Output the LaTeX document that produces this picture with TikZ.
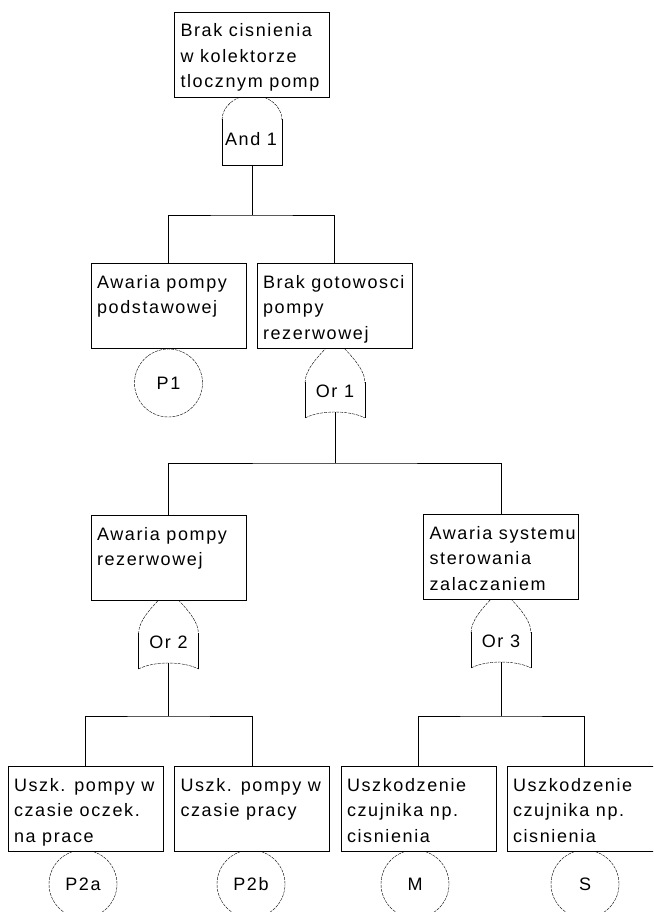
\documentclass[tikz,border=0pt]{standalone}
\usepackage{fontspec}
\newfontfamily\lab[LetterSpace=9]{Liberation Sans}
\usetikzlibrary{calc}
\pgfdeclarelayer{bg}
\pgfsetlayers{bg,main}
\begin{document}
\begin{tikzpicture}[x=1pt,y=-1pt,line width=1.1pt,
  box/.style={draw,fill=white,minimum width=155pt,minimum height=85pt,inner sep=0pt},
  txt/.style={font=\lab\fontsize{18}{25.5}\selectfont,align=left,anchor=base west,inner sep=0pt},
  gl/.style={font=\lab\fontsize{18}{20}\selectfont,inner sep=0pt},
  dsh/.style={dash pattern=on 3pt off 1pt},
  evt/.style={circle,draw,dsh,minimum size=68pt,inner sep=0pt,font=\lab\fontsize{18}{20}\selectfont},
  orgate/.pic={
    \draw[dsh] (-30,0) .. controls (-30,-14) and (-16,-28) .. (0,-44) .. controls (16,-28) and (30,-14) .. (30,0);
    \draw (-30,-1) -- (-30,35) (30,-1) -- (30,35);
    \draw[dsh] (-30,35) .. controls (-15,27) and (15,27) .. (30,35);
  }]
\clip (0,0) rectangle (653,912);
\begin{pgfonlayer}{bg}
  \fill[white] (0,0) rectangle (653,912);
\end{pgfonlayer}

% boxes
\node[box] (T) at (252,54.5) {};
\node[box] (A) at (168.5,306) {};
\node[box] (B) at (334.5,306) {};
\node[box] (C) at (168.5,558) {};
\node[box] (D) at (501,557) {};
\node[box] (E) at (85.5,809) {};
\node[box] (F) at (252,809) {};
\node[box] (G) at (418.5,809) {};
\node[box] (H) at (584.5,809) {};

% texts (anchor = baseline of last line)
\node[txt] (tT) at ($(T.north west)+(6,76)$) {Brak cisnienia\\w kolektorze\\tlocznym pomp};
\node[txt] (tA) at ($(A.north west)+(6,50.5)$) {Awaria pompy\\podstawowej};
\node[txt] (tB) at ($(B.north west)+(6,76)$) {Brak gotowosci\\pompy\\rezerwowej};
\node[txt] (tC) at ($(C.north west)+(6,50.5)$) {Awaria pompy\\rezerwowej};
\node[txt] (tD) at ($(D.north west)+(6,76)$) {Awaria systemu\\sterowania\\zalaczaniem};
\node[txt] (tE) at ($(E.north west)+(6,76)$) {Uszk. pompy w\\czasie oczek.\\na prace};
\node[txt] (tF) at ($(F.north west)+(6,50.5)$) {Uszk. pompy w\\czasie pracy};
\node[txt] (tG) at ($(G.north west)+(6,76)$) {Uszkodzenie\\czujnika np.\\cisnienia};
\node[txt] (tH) at ($(H.north west)+(6,76)$) {Uszkodzenie\\czujnika np.\\cisnienia};

\begin{pgfonlayer}{bg}
  % And gate
  \draw[dsh] (222,120) .. controls (222,106) and (236,95) .. (252,95) .. controls (268,95) and (282,106) .. (282,120);
  \draw (222,119) -- (222,165) -- (282,165) -- (282,119);
  % Or gates
  \pic (or1) at (335,383) {orgate};
  \pic (or2) at (168.5,634) {orgate};
  \pic (or3) at (501,633) {orgate};
  % basic events
  \node[evt] (P1) at (168.5,383) {P1};
  \node[evt] (P2a) at (83,884) {P2a};
  \node[evt] (P2b) at (251,884) {P2b};
  \node[evt] (M) at (415,884) {M};
  \node[evt] (S) at (585,884) {S};
\end{pgfonlayer}

\node[gl] (g1) at (251,139) {And 1};
\node[gl] (g2) at (335,391) {Or 1};
\node[gl] (g3) at (168.5,642) {Or 2};
\node[gl] (g4) at (501,641) {Or 3};

% connectors
\coordinate (g1b) at (252,165);
\coordinate (j1) at (252,215);
\draw (g1b) -- (j1);
\draw (A.north) |- (j1) -| (B.north);

\coordinate (g2b) at (335,412);
\coordinate (j2) at (335,463);
\draw (g2b) -- (j2);
\draw (C.north) |- (j2) -| (D.north);

\coordinate (g3b) at (168.5,663);
\coordinate (j3) at (168.5,716);
\draw (g3b) -- (j3);
\draw (E.north) |- (j3) -| (F.north);

\coordinate (g4b) at (501,662);
\coordinate (j4) at (501,716);
\draw (g4b) -- (j4);
\draw (G.north) |- (j4) -| (H.north);
\end{tikzpicture}
\end{document}
